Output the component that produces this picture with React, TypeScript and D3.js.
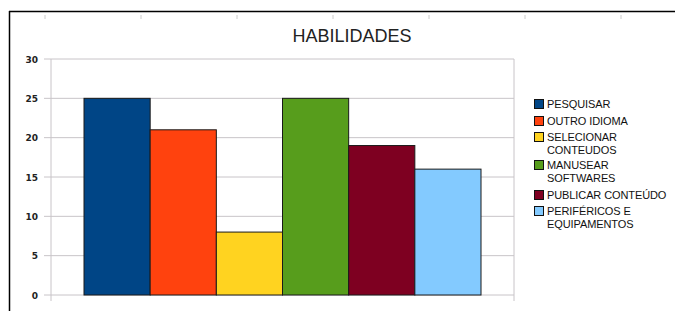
import React from "react";
import * as d3 from "d3";

const series = ["PESQUISAR", "OUTRO IDIOMA", "SELECIONAR CONTEUDOS", "MANUSEAR SOFTWARES", "PUBLICAR CONTEÚDO", "PERIFÉRICOS E EQUIPAMENTOS"];
const legendLines = [["PESQUISAR"], ["OUTRO IDIOMA"], ["SELECIONAR", "CONTEUDOS"], ["MANUSEAR", "SOFTWARES"], ["PUBLICAR CONTEÚDO"], ["PERIFÉRICOS E", "EQUIPAMENTOS"]];
const values = [25, 21, 8, 25, 19, 16];
const colors = ["#004586", "#ff420e", "#ffd320", "#579d1c", "#7e0021", "#83caff"];
const yTicks = [0, 5, 10, 15, 20, 25, 30];
const rulerTicks = [45, 141, 237, 333, 429, 525, 621];

export default function App() {
  const W = 675, H = 311;
  const left = 51, right = 514, top = 59, bottom = 295;
  const y = d3.scaleLinear().domain([0, 30]).range([bottom, top]);
  const x = d3.scaleBand().domain(series).range([left + 33, right - 33]).paddingInner(0).paddingOuter(0);
  const legendY = [104, 121, 137, 165, 195, 211];
  return (
    <svg width={W} height={H} style={{ position: "absolute", left: 0, top: 0, background: "#fff" }}>
      <line x1={9} y1={11.5} x2={675} y2={11.5} stroke="#000" strokeWidth={1.5} />
      <line x1={9.5} y1={11} x2={9.5} y2={311} stroke="#000" strokeWidth={1.5} />
      {rulerTicks.map((t, i) => (
        <line key={i} x1={t} x2={t} y1={15} y2={19} stroke="#ccc" strokeWidth={1} />
      ))}
      <text x={352} y={42} textAnchor="middle" fontFamily="Liberation Sans" fontSize={18} fill="#222">HABILIDADES</text>
      {yTicks.map((t) => (
        <g key={t}>
          <line x1={44} x2={right} y1={y(t)} y2={y(t)} stroke="#c8c4c8" strokeWidth={1} />
          <text x={38} y={y(t) + 3.5} textAnchor="end" fontFamily="DejaVu Sans" fontWeight="bold" fontSize={9} fill="#222">{t}</text>
        </g>
      ))}
      <line x1={left} x2={left} y1={top} y2={bottom + 6} stroke="#c8c4c8" strokeWidth={1} />
      <line x1={right} x2={right} y1={top} y2={bottom + 6} stroke="#c8c4c8" strokeWidth={1} />
      {series.map((s, i) => (
        <rect key={s} x={x(s)!} y={y(values[i])} width={x.bandwidth()} height={y(0) - y(values[i])} fill={colors[i]} stroke="#1a1a1a" strokeWidth={1} />
      ))}
      {legendLines.map((lines, i) => (
        <g key={i}>
          <rect x={534.5} y={legendY[i] - 4.5} width={9} height={9} fill={colors[i]} stroke="#111" strokeWidth={1} />
          {lines.map((l, j) => (
            <text key={j} x={547} y={legendY[i] + 4 + j * 13} fontFamily="Liberation Sans" fontSize={11} letterSpacing={-0.1} fill="#111">{l}</text>
          ))}
        </g>
      ))}
    </svg>
  );
}
